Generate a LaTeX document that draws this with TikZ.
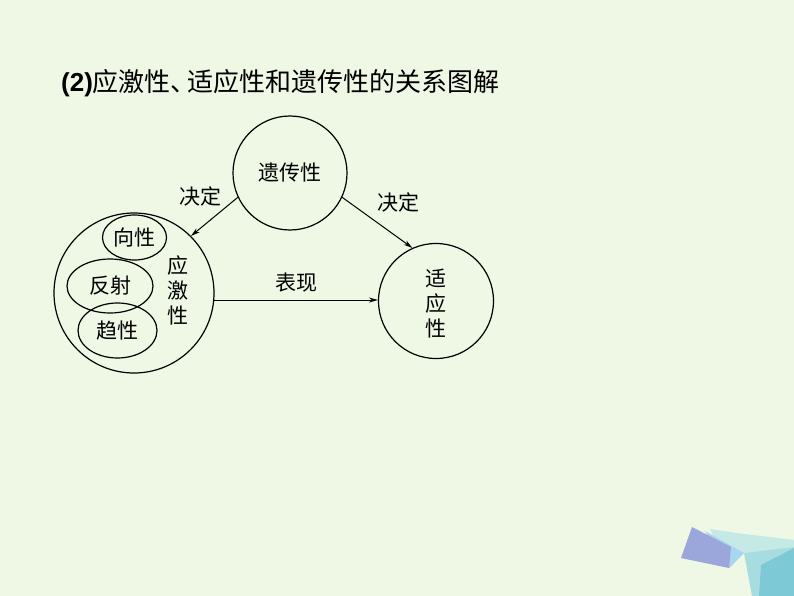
\documentclass[tikz,border=0pt]{standalone}
\usepackage{fontspec}
\setmainfont{Liberation Sans}
\newfontfamily\cjk{Noto Sans CJK SC}
\usetikzlibrary{shapes.geometric,arrows.meta}
\definecolor{bgcol}{RGB}{239,247,229}
\definecolor{purpcol}{RGB}{155,166,218}
\definecolor{skycol}{RGB}{168,214,238}
\definecolor{palecol}{RGB}{197,233,229}
\definecolor{midcol}{RGB}{167,220,224}
\definecolor{tealcol}{RGB}{125,202,214}
\tikzset{
  bigcirc/.style={draw,circle,inner sep=0pt,line width=1.2pt},
  smallell/.style={draw,ellipse,inner sep=0pt,line width=1.2pt},
  lbl/.style={font=\fontsize{21}{25}\selectfont\cjk,align=center,inner sep=0pt},
}
\begin{document}
\begin{tikzpicture}[x=1pt,y=-1pt,>={Stealth[length=9pt,width=5pt]}]
  \fill[bgcol] (0,0) rectangle (794,596);
  \useasboundingbox (0,0) rectangle (794,596);
  % corner decoration
  \fill[palecol] (710,529) -- (736,533) -- (794,540) -- (794,547) -- (744,553) -- (729,568) -- cycle;
  \fill[skycol] (705,531) -- (744,553) -- (729,568) -- cycle;
  \fill[midcol] (744,553) -- (794,547) -- (794,596) -- (752,596) -- cycle;
  \fill[tealcol] (761,565) -- (794,548) -- (794,596) -- (759,596) -- cycle;
  \fill[purpcol] (692,527) -- (681,558) -- (729,568) -- (731,547) -- cycle;
  % title
  \node[anchor=west,inner sep=0pt] (title) at (61,83)
    {\fontsize{26}{30}\selectfont\textbf{(2)}\cjk 应激性、\kern-9pt适应性和遗传性的关系图解};
  % circles
  \node[bigcirc,minimum size=114pt] (yichuan) at (290,173) {};
  \node[lbl] at (yichuan) {遗传性};
  \node[bigcirc,minimum size=160pt] (yingji) at (134,293) {};
  \node[bigcirc,minimum size=115pt] (shiying) at (436,301) {};
  \node[lbl] (shiyinglbl) at (436,304) {适\\应\\性};
  % inside the left circle
  \node[smallell,minimum width=64pt,minimum height=45pt] (xiangxing) at (134.5,237.5) {};
  \node[smallell,minimum width=86pt,minimum height=54pt] (fanshe) at (110,286) {};
  \node[smallell,minimum width=79pt,minimum height=55pt] (quxing) at (117.5,330.5) {};
  \node[lbl] at (xiangxing) {向性};
  \node[lbl] at (fanshe) {反射};
  \node[lbl] at (quxing) {趋性};
  \node[lbl] (yingjilbl) at (178,290) {应\\激\\性};
  % arrows
  \draw[->,line width=1pt] (yichuan.205) -- (yingji.45);
  \draw[->,line width=1pt] (yichuan.335) -- (shiying.114);
  \draw[->,line width=1pt] (yingji.-5) -- (yingji.-5 -| shiying.west);
  \node[lbl] (jueding1) at (200,196) {决定};
  \node[lbl] (jueding2) at (398,202) {决定};
  \node[lbl] (biaoxian) at (296,283) {表现};
\end{tikzpicture}
\end{document}
